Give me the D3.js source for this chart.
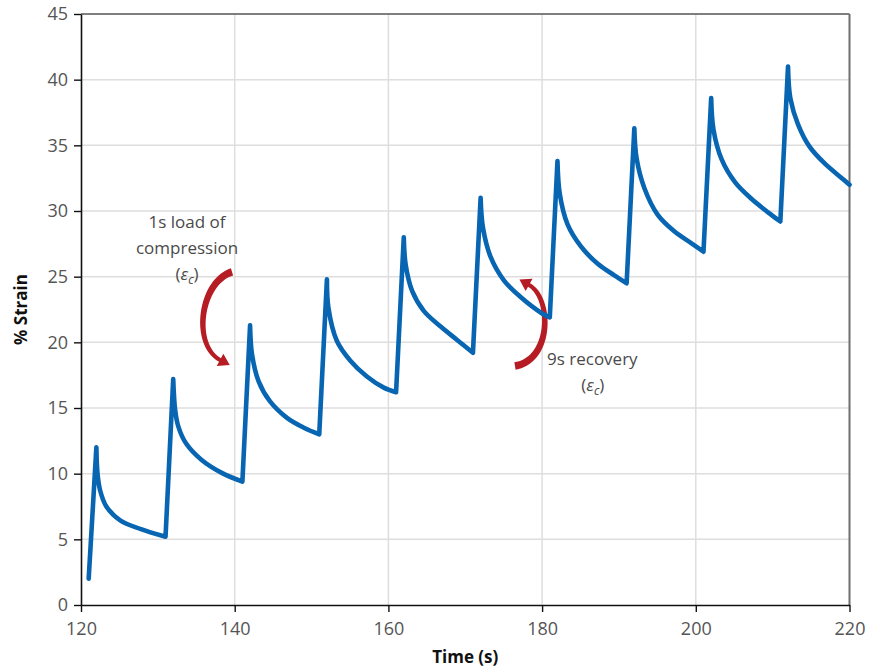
<!DOCTYPE html>
<html>
<head>
<meta charset="utf-8">
<script src="https://cdn.jsdelivr.net/npm/d3@7"></script>
<style>
  body { margin: 0; background: #fff; }
  svg { display: block; font-family: "Open Sans", sans-serif; }
</style>
</head>
<body>
<div id="chart"></div>
<script>
// strain readings, one loading step (1 s) then 9 s of recovery per cycle
const time = [121, 122, 122.15, 122.5, 123.3, 125.1, 127.7, 131,
  132, 132.25, 132.67, 133.66, 135.7, 138.5, 141,
  142, 142.25, 143.1, 144.6, 146.8, 149, 151,
  152, 152.2, 153.3, 155.05, 157.2, 159.4, 161,
  162, 162.25, 163.1, 164.6, 166.8, 168.9, 171,
  172, 172.3, 173.3, 175.05, 177.2, 180, 181,
  182, 182.3, 183.3, 185.05, 187.2, 189.4, 191,
  192, 192.3, 193.3, 195.05, 197.2, 199.4, 201,
  202, 202.3, 203.35, 205.1, 207.2, 209.4, 211,
  212, 212.3, 213.3, 214.8, 216.8, 219, 220];

const strain = [2.0, 12.0, 10.0, 8.7, 7.5, 6.45, 5.8, 5.2,
  17.2, 14.85, 13.58, 12.31, 11.04, 10.0, 9.4,
  21.3, 19.1, 17.05, 15.5, 14.25, 13.5, 13.0,
  24.8, 22.6, 20.1, 18.6, 17.4, 16.55, 16.2,
  28.0, 25.9, 23.9, 22.4, 21.2, 20.2, 19.2,
  31.0, 28.75, 26.5, 24.7, 23.45, 22.2, 21.9,
  33.8, 31.3, 29.0, 27.3, 26.0, 25.1, 24.5,
  36.3, 34.0, 31.75, 29.7, 28.45, 27.55, 26.9,
  38.6, 36.2, 33.95, 32.2, 30.95, 29.9, 29.2,
  41.0, 38.6, 36.6, 34.9, 33.6, 32.5, 32.0];

const xTicks = [120, 140, 160, 180, 200, 220];
const yTicks = [0, 5, 10, 15, 20, 25, 30, 35, 40, 45];

// annotations (data units)
const loadLines = ["1s load of", "compression"];
const loadArrow = [[139.65, 25.36], [135.48, 24.6], [134.44, 19.8], [138.09, 18.66]];
const recoveryLines = ["9s recovery"];
const recoveryArrow = [[176.47, 18.2], [181.29, 18.66], [181.29, 23.38], [178.3, 24.37]];

const width = 869, height = 672;
const margin = {top: 14, right: 19.5, bottom: 67, left: 81};

const x = d3.scaleLinear().domain([120, 220]).range([margin.left, width - margin.right]);
const y = d3.scaleLinear().domain([0, 45]).range([height - margin.bottom, margin.top]);

const svg = d3.select("#chart").append("svg")
    .attr("width", width)
    .attr("height", height);

// grid
svg.append("g")
    .selectAll("line")
    .data(yTicks.slice(1, -1))
    .join("line")
    .attr("x1", x(120)).attr("x2", x(220))
    .attr("y1", d => y(d)).attr("y2", d => y(d))
    .attr("stroke", "#dedede")
    .attr("stroke-width", 1.5);

svg.append("g")
    .selectAll("line")
    .data(xTicks.slice(1, -1))
    .join("line")
    .attr("x1", d => x(d)).attr("x2", d => x(d))
    .attr("y1", y(0)).attr("y2", y(45))
    .attr("stroke", "#dedede")
    .attr("stroke-width", 1.5);

// frame top / right
svg.append("line")
    .attr("x1", x(120)).attr("x2", x(220))
    .attr("y1", y(45)).attr("y2", y(45))
    .attr("stroke", "#555").attr("stroke-width", 1.5);
svg.append("line")
    .attr("x1", x(220)).attr("x2", x(220))
    .attr("y1", y(45)).attr("y2", y(0))
    .attr("stroke", "#6f6f6f").attr("stroke-width", 2);

// axes
const yAxis = svg.append("g")
    .attr("transform", `translate(${x(120)},0)`)
    .call(d3.axisLeft(y).tickValues(yTicks).tickSize(7).tickSizeOuter(0).tickPadding(6));
const xAxis = svg.append("g")
    .attr("transform", `translate(0,${y(0)})`)
    .call(d3.axisBottom(x).tickValues(xTicks).tickSize(7).tickSizeOuter(0).tickPadding(10));

[xAxis, yAxis].forEach(g => {
    g.select(".domain").attr("stroke", "#111").attr("stroke-width", 1.6);
    g.selectAll(".tick line").attr("stroke", "#111").attr("stroke-width", 1.4);
    g.selectAll(".tick text")
        .attr("fill", "#555")
        .style("font-size", "18px")
        .style("font-family", "'Open Sans', sans-serif");
});

// axis titles
svg.append("text")
    .attr("transform", `translate(27,${(y(0) + y(45)) / 2}) rotate(-90)`)
    .attr("text-anchor", "middle")
    .attr("font-weight", "bold")
    .attr("font-size", 17)
    .attr("fill", "#111")
    .text("% Strain");

svg.append("text")
    .attr("x", (x(120) + x(220)) / 2)
    .attr("y", 663)
    .attr("text-anchor", "middle")
    .attr("font-weight", "bold")
    .attr("font-size", 17)
    .attr("fill", "#111")
    .text("Time (s)");

// tapered brush arrow along a cubic bezier, in pixel space
function brushArrow(pts, w0, w1, headLen, headW) {
    const P = pts.map(([t, v]) => [x(t), y(v)]);
    const n = 40;
    const left = [], right = [];
    const bez = (u, i) => {
        const a = 1 - u;
        return a * a * a * P[0][i] + 3 * a * a * u * P[1][i] + 3 * a * u * u * P[2][i] + u * u * u * P[3][i];
    };
    const der = (u, i) => {
        const a = 1 - u;
        return 3 * a * a * (P[1][i] - P[0][i]) + 6 * a * u * (P[2][i] - P[1][i]) + 3 * u * u * (P[3][i] - P[2][i]);
    };
    for (let k = 0; k <= n; k++) {
        const u = k / n;
        const px = bez(u, 0), py = bez(u, 1);
        let dx = der(u, 0), dy = der(u, 1);
        const len = Math.hypot(dx, dy) || 1;
        dx /= len; dy /= len;
        const w = (w0 + (w1 - w0) * u) / 2;
        left.push([px - dy * w, py + dx * w]);
        right.push([px + dy * w, py - dx * w]);
    }
    let dx = der(1, 0), dy = der(1, 1);
    const len = Math.hypot(dx, dy);
    dx /= len; dy /= len;
    const end = P[3];
    const head = [
        [end[0] - dy * headW / 2, end[1] + dx * headW / 2],
        [end[0] + dx * headLen, end[1] + dy * headLen],
        [end[0] + dy * headW / 2, end[1] - dx * headW / 2]
    ];
    const outline = left.concat([head[0], head[1], head[2]], right.reverse());
    return "M" + outline.map(p => p.join(",")).join("L") + "Z";
}

const red = "#b51c24";
svg.append("path").attr("d", brushArrow(loadArrow, 7.5, 4, 11, 14)).attr("fill", red);
svg.append("path").attr("d", brushArrow(recoveryArrow, 7.5, 4, 11, 14)).attr("fill", red);

// strain trace: straight loading ramps, smooth recovery curves
const pts = time.map((t, i) => [t, strain[i]]);
const lineUp = d3.line().x(d => x(d[0])).y(d => y(d[1])).curve(d3.curveLinear);
const lineDown = d3.line().x(d => x(d[0])).y(d => y(d[1])).curve(d3.curveCatmullRom.alpha(0.5));

const segs = [];
let cur = [pts[0]], dir = null;
for (let i = 1; i < pts.length; i++) {
    const d = strain[i] > strain[i - 1] ? "up" : "down";
    if (dir && d !== dir) {
        segs.push({dir, pts: cur});
        cur = [pts[i - 1]];
    }
    dir = d;
    cur.push(pts[i]);
}
segs.push({dir, pts: cur});

const pathD = segs.map((s, k) => {
    const p = (s.dir === "up" ? lineUp : lineDown)(s.pts);
    return k === 0 ? p : p.replace(/^M/, "L");
}).join("");

svg.append("path")
    .attr("d", pathD)
    .attr("fill", "none")
    .attr("stroke", "#0865b2")
    .attr("stroke-width", 4.6)
    .attr("stroke-linejoin", "round")
    .attr("stroke-linecap", "round");

// annotation text
function epsLabel(g, cx, cy) {
    const t = g.append("text")
        .attr("x", cx).attr("y", cy)
        .attr("text-anchor", "middle")
        .attr("font-size", 17)
        .attr("fill", "#4a4a4a");
    t.append("tspan").text("(");
    t.append("tspan").attr("font-style", "italic").text("ε");
    t.append("tspan").attr("font-style", "italic").attr("font-size", 12).attr("dy", 4).text("c");
    t.append("tspan").attr("dy", -4).text(")");
}

const notes = svg.append("g");
notes.selectAll(".load")
    .data(loadLines)
    .join("text")
    .attr("x", x(133.8))
    .attr("y", (d, i) => y(28.7) + i * 26)
    .attr("text-anchor", "middle")
    .attr("font-size", 17)
    .attr("fill", "#4a4a4a")
    .text(d => d);
epsLabel(notes, x(133.8), y(28.7) + 52);

notes.selectAll(".rec")
    .data(recoveryLines)
    .join("text")
    .attr("x", x(180.64))
    .attr("y", y(18.27))
    .attr("font-size", 17)
    .attr("fill", "#4a4a4a")
    .text(d => d);
epsLabel(notes, x(186.6), y(18.27) + 26);
</script>
</body>
</html>
